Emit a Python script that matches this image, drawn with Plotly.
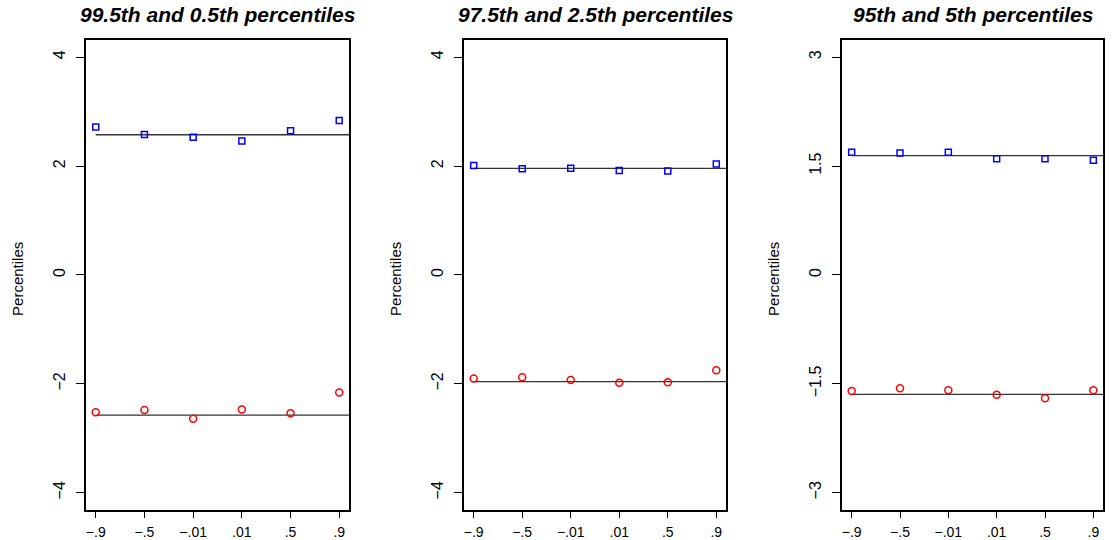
import plotly.graph_objects as go

# ---- data ----
categories = ["−.9", "−.5", "−.01", ".01", ".5", ".9"]
titles = ["99.5th and 0.5th percentiles", "97.5th and 2.5th percentiles", "95th and 5th percentiles"]
upper_1 = [2.72, 2.58, 2.53, 2.46, 2.65, 2.84]
lower_1 = [-2.52, -2.48, -2.64, -2.47, -2.54, -2.16]
upper_2 = [2.01, 1.95, 1.96, 1.92, 1.91, 2.04]
lower_2 = [-1.90, -1.88, -1.93, -1.98, -1.97, -1.75]
upper_3 = [1.69, 1.68, 1.69, 1.60, 1.60, 1.58]
lower_3 = [-1.60, -1.56, -1.59, -1.65, -1.70, -1.59]
reference = [2.576, 1.96, 1.645]
ytick_vals = [[-4, -2, 0, 2, 4], [-4, -2, 0, 2, 4], [-3, -1.5, 0, 1.5, 3]]
ytick_text = [["−4", "−2", "0", "2", "4"], ["−4", "−2", "0", "2", "4"], ["−3", "−1.5", "0", "1.5", "3"]]
y_limits = [4.32, 4.32, 3.24]

W, H = 1117, 540
panels_px = [(86, 349), (464, 726), (842, 1103)]
top_px, bot_px = 40, 512

uppers = [upper_1, upper_2, upper_3]
lowers = [lower_1, lower_2, lower_3]
xpos = list(range(1, len(categories) + 1))

fig = go.Figure()
annotations = []
layout = {}
font_axis = "Liberation Sans, Arial, sans-serif"

for i in range(3):
    ax = "" if i == 0 else str(i + 1)
    xa, ya = "x" + ax, "y" + ax
    # reference lines
    for v in (reference[i], -reference[i]):
        fig.add_trace(go.Scatter(x=[xpos[0], 7], y=[v, v], mode="lines", xaxis=xa, yaxis=ya,
                                 line=dict(color="#333333", width=1.3), showlegend=False, hoverinfo="skip"))
    fig.add_trace(go.Scatter(x=xpos, y=uppers[i], mode="markers", xaxis=xa, yaxis=ya,
                             marker=dict(symbol="square-open", size=6, color="blue", line=dict(width=1.5, color="blue")),
                             showlegend=False))
    fig.add_trace(go.Scatter(x=xpos, y=lowers[i], mode="markers", xaxis=xa, yaxis=ya,
                             marker=dict(symbol="circle-open", size=7, color="red", line=dict(width=1.5, color="red")),
                             showlegend=False))
    x0, x1 = panels_px[i]
    layout["xaxis" + ax] = dict(
        domain=[x0 / W, x1 / W], anchor=ya, range=[0.8, 6.2],
        tickvals=xpos, ticktext=categories, ticks="outside", ticklen=6, tickwidth=1, tickcolor="black",
        showline=True, linecolor="black", linewidth=1.5, mirror=True, showgrid=False, zeroline=False,
        tickfont=dict(family=font_axis, size=14, color="black"), ticklabelstandoff=2,
    )
    layout["yaxis" + ax] = dict(
        domain=[1 - bot_px / H, 1 - top_px / H], anchor=xa,
        range=[-y_limits[i], y_limits[i]],
        tickvals=ytick_vals[i], ticktext=ytick_text[i], tickangle=-90,
        ticks="outside", ticklen=8, tickwidth=1, tickcolor="black",
        showline=True, linecolor="black", linewidth=1.5, mirror=True, showgrid=False, zeroline=False,
        tickfont=dict(family=font_axis, size=16, color="black"), ticklabelstandoff=5,
    )
    annotations.append(dict(text="<b><i>" + titles[i] + "</i></b>", x=(x0 + x1) / 2 / W, y=1 - 15 / H,
                            xref="paper", yref="paper", xanchor="center", yanchor="middle", showarrow=False,
                            font=dict(family=font_axis, size=21, color="black")))
    annotations.append(dict(text="Percentiles", x=(x0 - 68) / W, y=1 - 280 / H, textangle=-90,
                            xref="paper", yref="paper", xanchor="center", yanchor="middle", showarrow=False,
                            font=dict(family=font_axis, size=15, color="black")))

fig.update_layout(
    width=W, height=H, margin=dict(l=0, r=0, t=0, b=0),
    paper_bgcolor="white", plot_bgcolor="white", showlegend=False,
    annotations=annotations, **layout,
)
fig.write_html("out.html")
